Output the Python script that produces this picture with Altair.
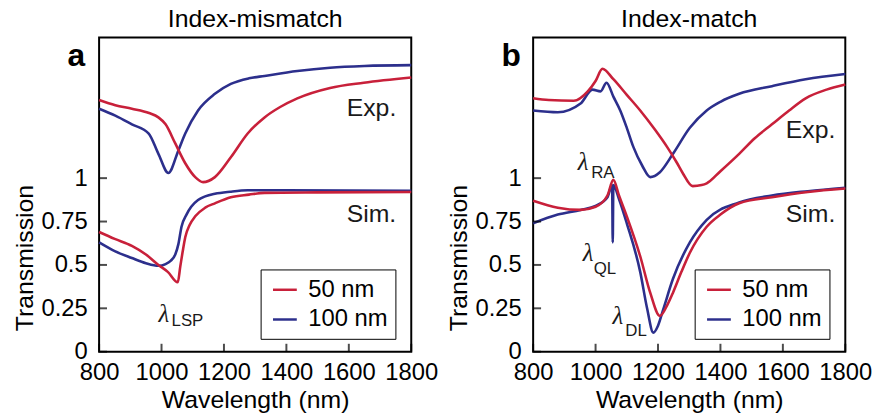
import altair as alt
import pandas as pd

RED = "#c8203a"
BLUE = "#2c2f8c"
FONT = "Liberation Sans"
SERIES = ["50 nm", "100 nm"]

# ---------------- Panel a (Index-mismatch) ----------------
a_exp50_wl = [800, 852, 905, 960, 990, 1013, 1044, 1076, 1108, 1133, 1171, 1222, 1276, 1330, 1380, 1435, 1540, 1648, 1800]
a_exp50_t = [1.45, 1.42, 1.40, 1.375, 1.35, 1.31, 1.20, 1.086, 1.006, 0.977, 1.006, 1.12, 1.257, 1.35, 1.41, 1.46, 1.52, 1.55, 1.58]

a_exp100_wl = [800, 852, 905, 959, 990, 1022, 1054, 1076, 1117, 1171, 1222, 1280, 1330, 1435, 1540, 1650, 1800]
a_exp100_t = [1.40, 1.36, 1.31, 1.257, 1.14, 1.03, 1.16, 1.257, 1.39, 1.486, 1.543, 1.575, 1.589, 1.617, 1.636, 1.646, 1.651]

a_sim50_wl = [800, 850, 905, 950, 990, 1020, 1052, 1060, 1068, 1076, 1090, 1108, 1140, 1171, 1222, 1280, 1330, 1500, 1800]
a_sim50_t = [0.69, 0.65, 0.61, 0.56, 0.50, 0.46, 0.40, 0.49, 0.58, 0.66, 0.73, 0.78, 0.83, 0.855, 0.89, 0.905, 0.915, 0.918, 0.92]

a_sim100_wl = [800, 850, 905, 950, 990, 1013, 1030, 1044, 1054, 1064, 1080, 1095, 1117, 1140, 1171, 1220, 1276, 1400, 1800]
a_sim100_t = [0.63, 0.58, 0.54, 0.51, 0.495, 0.505, 0.525, 0.56, 0.62, 0.72, 0.79, 0.835, 0.874, 0.895, 0.91, 0.922, 0.93, 0.93, 0.927]

# ---------------- Panel b (Index-match) ----------------
b_exp50_wl = [800, 850, 930, 975, 1000, 1022, 1057, 1100, 1143, 1190, 1229, 1260, 1279, 1311, 1340, 1356, 1400, 1460, 1510, 1565, 1620, 1673, 1740, 1800]
b_exp50_t = [1.46, 1.45, 1.446, 1.50, 1.56, 1.63, 1.57, 1.48, 1.39, 1.28, 1.18, 1.09, 1.03, 0.954, 0.96, 0.97, 1.04, 1.14, 1.23, 1.31, 1.39, 1.46, 1.51, 1.54]

b_exp100_wl = [800, 879, 952, 990, 1016, 1035, 1057, 1079, 1100, 1121, 1150, 1175, 1206, 1248, 1302, 1356, 1400, 1460, 1565, 1673, 1800]
b_exp100_t = [1.39, 1.38, 1.43, 1.51, 1.50, 1.55, 1.47, 1.39, 1.29, 1.18, 1.07, 1.006, 1.034, 1.14, 1.29, 1.39, 1.44, 1.486, 1.53, 1.57, 1.60]

b_sim50_wl = [800, 879, 952, 1000, 1038, 1057, 1075, 1100, 1143, 1175, 1206, 1230, 1248, 1275, 1302, 1356, 1400, 1460, 1565, 1680, 1800]
b_sim50_t = [0.87, 0.83, 0.817, 0.835, 0.90, 0.99, 0.90, 0.78, 0.55, 0.34, 0.206, 0.27, 0.34, 0.46, 0.57, 0.72, 0.79, 0.855, 0.89, 0.92, 0.94]

b_sim100_wl = [800, 879, 952, 1000, 1038, 1053, 1055, 1057, 1075, 1100, 1143, 1165, 1185, 1200, 1217, 1248, 1302, 1356, 1460, 1565, 1680, 1800]
b_sim100_t = [0.74, 0.79, 0.817, 0.84, 0.89, 0.96, 0.63, 0.96, 0.88, 0.74, 0.46, 0.25, 0.11, 0.15, 0.245, 0.42, 0.63, 0.76, 0.86, 0.90, 0.925, 0.945]

# annotations (data units)
a_labels = ["Exp.", "Sim."]
a_label_wl = [1752, 1752]
a_label_t = [1.36, 0.749]
a_lam_wl = [990]
a_lam_t = [0.171]
a_sub = ["LSP"]
a_sub_wl = [1032]
a_sub_t = [0.149]

b_labels = ["Exp.", "Sim."]
b_label_wl = [1768, 1768]
b_label_t = [1.234, 0.749]
b_lam_wl = [943, 959, 1054]
b_lam_t = [1.046, 0.52, 0.16]
b_sub = ["RA", "QL", "DL"]
b_sub_wl = [986, 994, 1095]
b_sub_t = [1.0, 0.446, 0.091]

x_tick_vals = [800, 1000, 1200, 1400, 1600, 1800]
y_tick_vals = [0, 0.25, 0.5, 0.75, 1]

W, H = 315, 317
YMAX = 1.81


def curves(spec):
    rows = []
    for series, kind, wl, t in spec:
        for w, v in zip(wl, t):
            rows.append({"wl": w, "t": v, "series": series, "kind": kind})
    return pd.DataFrame(rows)


def panel(df, labels, label_wl, label_t, lam_wl, lam_t, subs, sub_wl, sub_t, title, letter):
    xs = alt.Scale(domain=[800, 1800], nice=False)
    ys = alt.Scale(domain=[0, YMAX], nice=False)
    xaxis = alt.Axis(values=x_tick_vals, format="d", title="Wavelength (nm)", ticks=False, domain=False,
                     grid=False, labelFontSize=24, titleFontSize=25, labelPadding=9, titlePadding=3,
                     labelFont=FONT, titleFont=FONT, titleFontWeight="normal",
                     labelColor="black", titleColor="black", labelFlush=False)
    yaxis = alt.Axis(values=y_tick_vals, format="~g", title="Transmission", ticks=False, domain=False,
                     grid=False, labelFontSize=24, titleFontSize=25, labelPadding=12,
                     labelFont=FONT, titleFont=FONT, titleFontWeight="normal",
                     labelColor="black", titleColor="black", titleX=-67, titleY=222,
                     titleBaseline="alphabetic", titleAngle=270)
    legend = alt.Legend(orient="none", legendX=163, legendY=234, title=None, strokeColor="black",
                        padding=7, symbolType="stroke", symbolSize=576, symbolStrokeWidth=2.5,
                        symbolOffset=4, labelFontSize=24, labelFont=FONT, labelColor="black",
                        labelOffset=10, rowPadding=4)
    lines = alt.Chart(df).mark_line(strokeWidth=2.6, interpolate="monotone").encode(
        x=alt.X("wl:Q", scale=xs, axis=xaxis),
        y=alt.Y("t:Q", scale=ys, axis=yaxis),
        color=alt.Color("series:N", scale=alt.Scale(domain=SERIES, range=[RED, BLUE]), legend=legend),
        detail="kind:N",
    )
    xt = alt.Chart(pd.DataFrame({"wl": x_tick_vals})).mark_tick(
        orient="vertical", size=8, thickness=2, color="black").encode(
        x=alt.X("wl:Q", scale=xs), y=alt.value(H - 4))
    yt = alt.Chart(pd.DataFrame({"t": y_tick_vals})).mark_tick(
        orient="horizontal", size=8, thickness=2, color="black").encode(
        y=alt.Y("t:Q", scale=ys), x=alt.value(4))
    ann = alt.Chart(pd.DataFrame({"wl": label_wl, "t": label_t, "txt": labels})).mark_text(
        align="right", baseline="alphabetic", fontSize=25, font=FONT, color="#1a1a1a").encode(
        x=alt.X("wl:Q", scale=xs), y=alt.Y("t:Q", scale=ys), text="txt:N")
    lam = alt.Chart(pd.DataFrame({"wl": lam_wl, "t": lam_t, "txt": ["λ"] * len(lam_wl)})).mark_text(
        align="left", baseline="alphabetic", fontSize=25, font="Liberation Serif", fontStyle="italic",
        color="#1a1a1a").encode(
        x=alt.X("wl:Q", scale=xs), y=alt.Y("t:Q", scale=ys), text="txt:N")
    sub = alt.Chart(pd.DataFrame({"wl": sub_wl, "t": sub_t, "txt": subs})).mark_text(
        align="left", baseline="alphabetic", fontSize=17, font=FONT, color="#1a1a1a").encode(
        x=alt.X("wl:Q", scale=xs), y=alt.Y("t:Q", scale=ys), text="txt:N")
    let = alt.Chart(pd.DataFrame({"txt": [letter]})).mark_text(
        align="left", baseline="alphabetic", fontSize=32, fontWeight="bold", font=FONT, color="black").encode(
        x=alt.value(-32), y=alt.value(29), text="txt:N")
    return alt.layer(lines, xt, yt, ann, lam, sub, let).properties(
        width=W, height=H,
        title=alt.TitleParams(text=title, fontSize=25, font=FONT, fontWeight="normal", color="black", offset=6),
    )


df_a = curves([
    ("100 nm", "exp", a_exp100_wl, a_exp100_t),
    ("100 nm", "sim", a_sim100_wl, a_sim100_t),
    ("50 nm", "exp", a_exp50_wl, a_exp50_t),
    ("50 nm", "sim", a_sim50_wl, a_sim50_t),
])
df_b = curves([
    ("100 nm", "exp", b_exp100_wl, b_exp100_t),
    ("100 nm", "sim", b_sim100_wl, b_sim100_t),
    ("50 nm", "exp", b_exp50_wl, b_exp50_t),
    ("50 nm", "sim", b_sim50_wl, b_sim50_t),
])

pa = panel(df_a, a_labels, a_label_wl, a_label_t, a_lam_wl, a_lam_t, a_sub, a_sub_wl, a_sub_t,
           "Index-mismatch", "a")
pb = panel(df_b, b_labels, b_label_wl, b_label_t, b_lam_wl, b_lam_t, b_sub, b_sub_wl, b_sub_t,
           "Index-match", "b")

chart = alt.hconcat(pa, pb, spacing=123, bounds="flush").resolve_scale(color="independent").resolve_legend(
    color="independent"
).properties(
    padding={"left": 12, "top": 4, "right": 5, "bottom": 4},
    background="white",
).configure_view(stroke="black", strokeWidth=2)

chart.save("out.html", embed_options={"renderer": "svg", "actions": False})
